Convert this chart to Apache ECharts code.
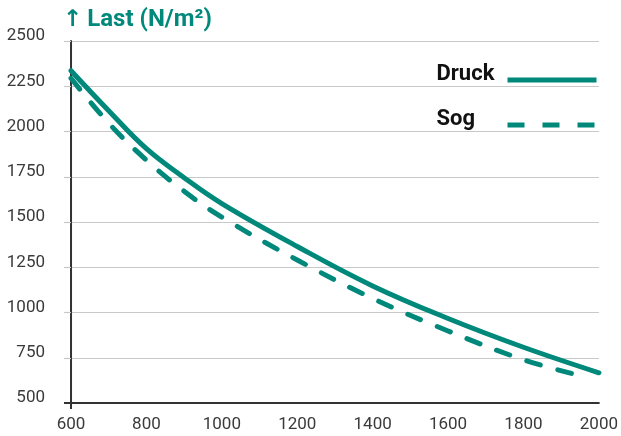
<!DOCTYPE html>
<html>
<head>
<meta charset="utf-8">
<script src="https://cdn.jsdelivr.net/npm/echarts@6/dist/echarts.min.js"></script>
<style>html,body{margin:0;padding:0;background:#fff}#c{width:621px;height:436px}</style>
</head>
<body>
<div id="c"></div>
<script>
const xTicks = [600, 800, 1000, 1200, 1400, 1600, 1800, 2000];
const yTicks = [500, 750, 1000, 1250, 1500, 1750, 2000, 2250, 2500];
const druckX = [600, 700, 800, 900, 1000, 1200, 1400, 1600, 1800, 2000];
const druckY = [2336, 2115, 1905, 1745, 1602, 1365, 1147, 967, 808, 667];
const sogX = [600, 700, 800, 900, 1000, 1200, 1400, 1600, 1800, 1950];
const sogY = [2294, 2046, 1842, 1670, 1527, 1290, 1078, 898, 739, 652];
const seriesNames = ['Druck', 'Sog'];
const titleArrow = '↑';
const titleText = 'Last (N/m²)';

const teal = '#00897b';
const labelFont = "Roboto, sans-serif";
const chart = echarts.init(document.getElementById('c'), null, {renderer: 'canvas'});
chart.setOption({
  animation: false,
  title: {
    text: '{arr|' + titleArrow + '} {t|' + titleText + '}', left: 58, top: 3,
    textStyle: {
      rich: {
        arr: {color: teal, fontSize: 23, fontWeight: 'bold', fontFamily: "'DejaVu Sans', sans-serif"},
        t: {color: teal, fontSize: 24, fontWeight: 'bold', fontFamily: 'Roboto, sans-serif'}
      }
    }
  },
  legend: {
    orient: 'vertical', right: 22, top: 63, align: 'right', padding: 0,
    itemWidth: 89, itemHeight: 1, itemGap: 11,
    itemStyle: {opacity: 0},
    formatter: '{a|{name}}',
    textStyle: {
      rich: {a: {fontSize: 22, fontWeight: 'bold', color: '#111', fontFamily: 'Roboto, sans-serif', padding: [0, 7, 12, 0], lineHeight: 25, width: 59, align: 'left'}}
    },
    data: [
      {name: seriesNames[0], lineStyle: {cap: 'butt', width: 5}},
      {name: seriesNames[1], lineStyle: {cap: 'butt', width: 5, type: [17, 18]}}
    ]
  },
  grid: {left: 71, right: 20, top: 41, bottom: 33},
  xAxis: {
    type: 'value', min: 600, max: 2000, interval: 200,
    axisLine: {show: true, lineStyle: {color: '#333', width: 2}},
    axisTick: {show: true, customValues: [xTicks[0]], length: 6, lineStyle: {color: '#333', width: 2}},
    splitLine: {show: true, lineStyle: {color: '#c8c8c8', width: 1.2}},
    axisLabel: {color: '#3a3a3a', fontSize: 17, fontFamily: labelFont, margin: 13, showMinLabel: true, showMaxLabel: true,
      customValues: xTicks, formatter: v => String(v)}
  },
  yAxis: [{
    type: 'value', min: 500, max: 2500, interval: 250,
    axisLine: {show: true, onZero: false, lineStyle: {color: '#333', width: 2}},
    axisTick: {show: true, customValues: yTicks.slice(1), length: 7, lineStyle: {color: '#c8c8c8', width: 1.2}},
    splitLine: {show: true, lineStyle: {color: '#c8c8c8', width: 1.2}},
    axisLabel: {color: '#3a3a3a', fontSize: 17, fontFamily: labelFont, margin: 26, verticalAlign: 'bottom', lineHeight: 10,
      customValues: yTicks, formatter: v => String(v)}
  }, {
    type: 'value', min: 500, max: 2500, interval: 250, position: 'left', offset: 0,
    axisLine: {show: false},
    axisTick: {show: true, customValues: [yTicks[0]], length: 7, lineStyle: {color: '#333', width: 2}},
    splitLine: {show: false},
    axisLabel: {show: false}
  }],
  series: [
    {
      name: seriesNames[0], type: 'line', smooth: 0.4, symbol: 'none',
      lineStyle: {color: teal, width: 5, cap: 'round'}, itemStyle: {color: teal},
      data: druckX.map((x, i) => [x, druckY[i]])
    },
    {
      name: seriesNames[1], type: 'line', smooth: 0.4, symbol: 'none',
      lineStyle: {color: teal, width: 5, type: [14, 18], cap: 'round'}, itemStyle: {color: teal},
      data: sogX.map((x, i) => [x, sogY[i]])
    }
  ]
});
</script>
</body>
</html>
